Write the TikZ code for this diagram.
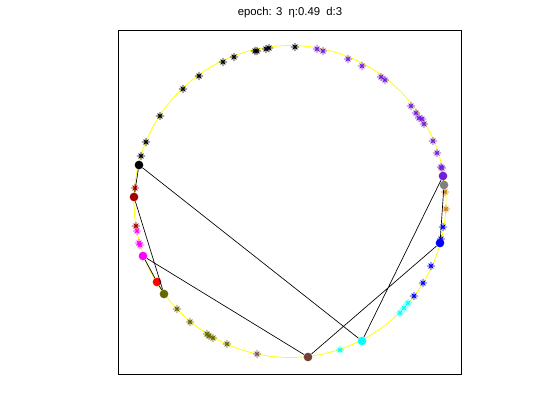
\documentclass[tikz,border=0pt]{standalone}
\usepackage{fontspec}
\setmainfont{Liberation Sans}
\definecolor{darkred}{RGB}{165,0,0}
\definecolor{olivec}{RGB}{102,102,0}
\definecolor{brownc}{RGB}{115,65,55}
\definecolor{brownstar}{RGB}{120,85,95}
\definecolor{purplec}{RGB}{115,30,215}
\definecolor{orangec}{RGB}{205,130,20}
\definecolor{grayc}{RGB}{128,128,128}
\definecolor{magentac}{RGB}{255,0,255}
\definecolor{cyanc}{RGB}{0,255,255}
\definecolor{bluec}{RGB}{0,0,255}
\definecolor{redc}{RGB}{255,0,0}
\definecolor{yellowc}{RGB}{255,255,0}
\begin{document}
\begin{tikzpicture}[x=0.75pt,y=-0.75pt,
    asterisk/.pic={\draw[line width=0.6pt] (-4.2,0)--(4.2,0) (0,-4.2)--(0,4.2) (-2.4,-2.4)--(2.4,2.4) (-2.4,2.4)--(2.4,-2.4);},
    neuron/.style={circle,inner sep=0pt,minimum size=6.5pt,fill=#1},
    tour/.style={black,line width=0.5pt}]
    \useasboundingbox (0,0) rectangle (560,420);
    \node (title) at (290,13) {\fontsize{8.5}{10}\selectfont epoch: 3\ \ η:0.49\ \ d:3};
    \draw[line width=0.75pt] (118,31) rectangle (461,374);
    \draw[yellowc,line width=0.6pt] (290,201.5) circle (117pt);

    % data points
    \foreach \p in {(141,156),(146,142),(160,116),(183,89),(199,76),(223,62),(234,57),(255,51),(257,51),(266,49),(269,48),(295,47)}
        \pic[black] at \p {asterisk};
    \foreach \p in {(317,49),(323,51),(348,59),(362,66),(381,77),(385,80),(411,106),(416,113),(419,118),(422,119),(424,124),(433,141),(437,153),(441,167),(442,168)}
        \pic[purplec] at \p {asterisk};
    \foreach \p in {(445,192),(446,209)}
        \pic[orangec] at \p {asterisk};
    \foreach \p in {(443,227),(441,239),(431,266),(423,283),(414,296)}
        \pic[bluec] at \p {asterisk};
    \foreach \p in {(408,303),(404,308),(400,313),(340,350)}
        \pic[cyanc] at \p {asterisk};
    \pic[brownstar] at (257,354) {asterisk};
    \foreach \p in {(177,309),(190,322),(207,334),(209,336),(213,338),(227,344)}
        \pic[olivec] at \p {asterisk};
    \foreach \p in {(135,188),(136,226)}
        \pic[darkred] at \p {asterisk};
    \foreach \p in {(137,231),(139,243),(140,245)}
        \pic[magentac] at \p {asterisk};

    % neurons
    \node[neuron=black] (blk) at (139,165) {};
    \node[neuron=darkred] (drd) at (134,197) {};
    \node[neuron=magentac] (mag) at (143,256) {};
    \node[neuron=redc] (rd) at (157,282) {};
    \node[neuron=olivec] (olv) at (164,294) {};
    \node[neuron=brownc] (brn) at (308,357) {};
    \node[neuron=cyanc] (cyn) at (362,341) {};
    \node[neuron=bluec] (blu) at (440,243) {};
    \node[neuron=purplec] (pur) at (443,176) {};
    \node[neuron=grayc] (gry) at (444,185) {};

    \draw[tour] (blk)--(drd)--(olv)--(rd)--(mag)--(brn)--(blu)--(gry)--(pur)--(cyn)--(blk);
\end{tikzpicture}
\end{document}
